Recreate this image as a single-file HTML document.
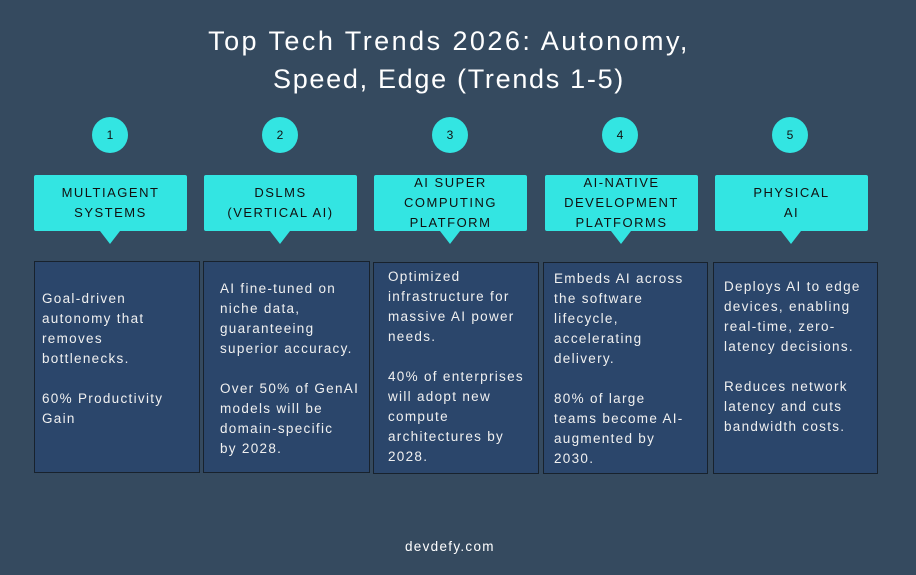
<!DOCTYPE html>
<html><head><style>
body{margin:0;width:916px;height:575px;background:#354a5f;position:relative;overflow:hidden;font-family:"Liberation Sans","DejaVu Sans",sans-serif;}
.t{position:absolute;left:0;width:898px;text-align:center;color:#fff;font-size:27px;white-space:nowrap;}
.c{position:absolute;width:36px;height:36px;border-radius:50%;background:#33e5e2;color:#111;font-size:12px;text-align:center;line-height:36px;top:117px;}
.h{position:absolute;top:175px;width:153px;height:56px;background:#33e5e2;border-radius:2px;color:#111;font-size:13px;letter-spacing:1.5px;text-align:center;line-height:20px;display:flex;align-items:center;justify-content:center;}
.h:after{content:"";position:absolute;left:66px;bottom:-13px;border-left:10px solid transparent;border-right:10px solid transparent;border-top:13px solid #33e5e2;}
.k{position:absolute;top:261px;width:164px;height:212px;background:#2b466b;border:1px solid #18222d;box-sizing:border-box;}
.x{position:absolute;color:#f0f0f0;font-size:13.5px;line-height:20px;letter-spacing:1.3px;white-space:pre;}
</style></head><body>
<div class="t" style="top:26px;letter-spacing:2.45px">Top Tech Trends 2026: Autonomy,</div>
<div class="t" style="top:64px;letter-spacing:1.7px">Speed, Edge (Trends 1-5)</div>

<div class="c" style="left:92px">1</div>
<div class="c" style="left:262px">2</div>
<div class="c" style="left:432px">3</div>
<div class="c" style="left:602px">4</div>
<div class="c" style="left:772px">5</div>

<div class="h" style="left:34px">MULTIAGENT<br>SYSTEMS</div>
<div class="h" style="left:204px">DSLMS<br>(VERTICAL AI)</div>
<div class="h" style="left:374px">AI SUPER<br>COMPUTING<br>PLATFORM</div>
<div class="h" style="left:545px">AI-NATIVE<br>DEVELOPMENT<br>PLATFORMS</div>
<div class="h" style="left:715px">PHYSICAL<br>AI</div>

<div class="k" style="left:34px;width:166px"></div>
<div class="k" style="left:203px;width:167px"></div>
<div class="k" style="left:373px;width:166px;top:262px"></div>
<div class="k" style="left:543px;width:165px;top:262px"></div>
<div class="k" style="left:713px;width:165px;top:262px"></div>

<div class="x" style="left:42px;top:289px">Goal-driven
autonomy that
removes
bottlenecks.

60% Productivity
Gain</div>
<div class="x" style="left:220px;top:279px">AI fine-tuned on
niche data,
guaranteeing
superior accuracy.

Over 50% of GenAI
models will be
domain-specific
by 2028.</div>
<div class="x" style="left:388px;top:267px">Optimized
infrastructure for
massive AI power
needs.

40% of enterprises
will adopt new
compute
architectures by
2028.</div>
<div class="x" style="left:554px;top:269px">Embeds AI across
the software
lifecycle,
accelerating
delivery.

80% of large
teams become AI-
augmented by
2030.</div>
<div class="x" style="left:724px;top:277px">Deploys AI to edge
devices, enabling
real-time, zero-
latency decisions.

Reduces network
latency and cuts
bandwidth costs.</div>

<div style="position:absolute;top:539px;left:405px;color:#fff;font-size:13.5px;letter-spacing:1.3px">devdefy.com</div>
</body></html>
